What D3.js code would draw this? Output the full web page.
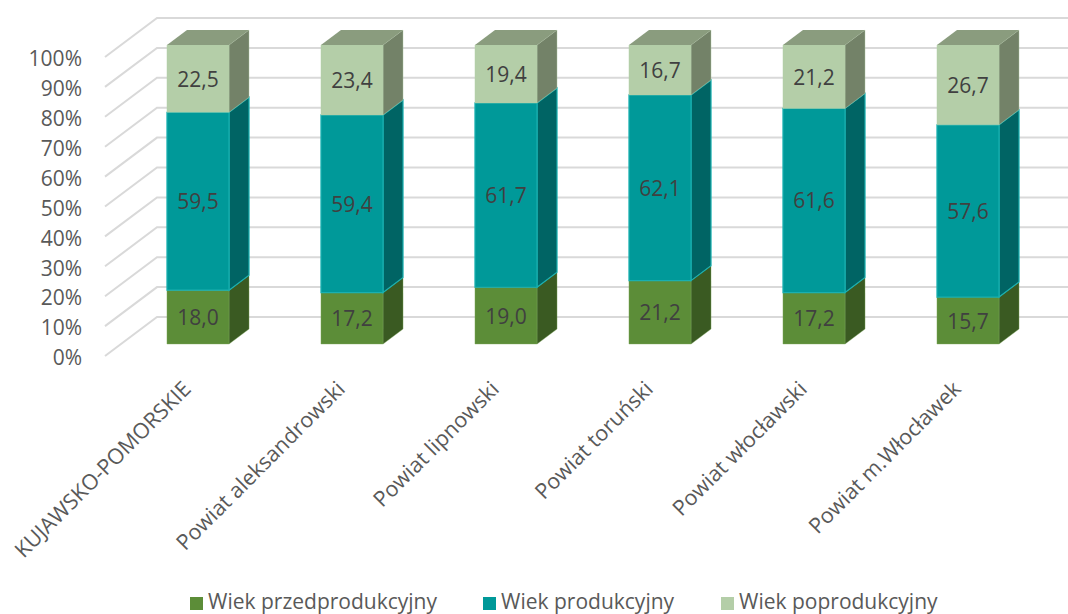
<!DOCTYPE html>
<html lang="pl">
<head>
<meta charset="utf-8">
<script src="https://cdn.jsdelivr.net/npm/d3@7"></script>
<style>
  html, body { margin: 0; padding: 0; background: #ffffff; }
  svg { display: block; font-family: "Open Sans", "Noto Sans", sans-serif; }
</style>
</head>
<body>
<svg id="chart" width="1068" height="614"></svg>
<script>
// Struktura ludności według ekonomicznych grup wieku (%)
const categories = [
  "KUJAWSKO-POMORSKIE",
  "Powiat aleksandrowski",
  "Powiat lipnowski",
  "Powiat toruński",
  "Powiat włocławski",
  "Powiat m.Włocławek"
];
const seriesNames = ["Wiek przedprodukcyjny", "Wiek produkcyjny", "Wiek poprodukcyjny"];
const przedprodukcyjny = [18.0, 17.2, 19.0, 21.2, 17.2, 15.7];
const produkcyjny      = [59.5, 59.4, 61.7, 62.1, 61.6, 57.6];
const poprodukcyjny    = [22.5, 23.4, 19.4, 16.7, 21.2, 26.7];
const yTicks = [0, 0.1, 0.2, 0.3, 0.4, 0.5, 0.6, 0.7, 0.8, 0.9, 1.0];

const seriesValues = [przedprodukcyjny, produkcyjny, poprodukcyjny];

// face colours per series: front, side, top, edge
const palette = [
  { front: "#5c8d38", side: "#3a5a22", top: "#4a7030", edge: "#7fa95e" },
  { front: "#009999", side: "#006464", top: "#007a7a", edge: "#19b0b0" },
  { front: "#b4cea8", side: "#738268", top: "#8a9c7e", edge: "#b4cea8" }
];

const FONT = 21;
const svg = d3.select("#chart");

// 3-D frame: front plane of the floor/wall box and its depth offset
const left = 105, right = 1029;
const depthX = 52, depthY = -39;
const barZ0 = 16 / 52, barZ1 = 36 / 52;

const y = d3.scaleLinear().domain([0, 1]).range([356, 57]);
const x = d3.scaleBand().domain(categories).range([left, right])
  .paddingInner(0.597).paddingOuter(0.2985);

const P = (px, py, z) => [px + depthX * z, py + depthY * z];
const poly = pts => "M" + pts.map(p => p.join(",")).join("L") + "Z";

// gridlines: diagonal on the side wall, horizontal on the back wall
const grid = svg.append("g").attr("fill", "none").attr("stroke", "#d9d9d9").attr("stroke-width", 2);
yTicks.forEach(t => {
  const a = P(left, y(t), 0), b = P(left, y(t), 1);
  grid.append("path").attr("d", `M${a[0]},${a[1]}L${b[0]},${b[1]}L1068,${b[1]}`);
});

// y axis labels
const yAxis = d3.axisLeft(y).tickValues(yTicks).tickFormat(d3.format(".0%")).tickSize(0).tickPadding(0);
const yg = svg.append("g").attr("transform", "translate(82,2)").call(yAxis);
yg.select(".domain").remove();
yg.selectAll("text").attr("font-size", FONT).attr("fill", "#595959")
  .attr("font-family", "'Open Sans', 'Noto Sans', sans-serif");

// stacked 3-D columns (100% stacked)
const fmt = v => d3.format(".1f")(v).replace(".", ",");
const bars = svg.append("g");
categories.forEach((cat, i) => {
  const total = d3.sum(seriesValues, s => s[i]);
  const xa = x(cat), xb = x(cat) + x.bandwidth();
  let acc = 0;
  seriesValues.forEach((s, k) => {
    const v0 = acc / total, v1 = (acc + s[i]) / total;
    acc += s[i];
    const y0 = y(v0), y1 = y(v1);
    const c = palette[k];
    const g = bars.append("g");
    g.append("path")
      .attr("d", poly([P(xb, y0, barZ0), P(xb, y0, barZ1), P(xb, y1, barZ1), P(xb, y1, barZ0)]))
      .attr("fill", c.side).attr("stroke", c.edge).attr("stroke-width", k === 1 ? 1.2 : 0.4);
    g.append("path")
      .attr("d", poly([P(xa, y0, barZ0), P(xb, y0, barZ0), P(xb, y1, barZ0), P(xa, y1, barZ0)]))
      .attr("fill", c.front).attr("stroke", c.edge).attr("stroke-width", k === 1 ? 1.2 : 0.4);
    if (k === seriesValues.length - 1) {
      g.append("path")
        .attr("d", poly([P(xa, y1, barZ0), P(xb, y1, barZ0), P(xb, y1, barZ1), P(xa, y1, barZ1)]))
        .attr("fill", c.top);
    }
    const cx = P((xa + xb) / 2, (y0 + y1) / 2, barZ0);
    g.append("text")
      .attr("x", cx[0]).attr("y", cx[1])
      .attr("text-anchor", "middle").attr("dominant-baseline", "central")
      .attr("font-size", FONT).attr("fill", "#404040")
      .text(fmt(s[i]));
  });
});

// rotated category labels
svg.append("g").selectAll("text").data(categories).join("text")
  .attr("transform", d => `translate(${x(d) + x.bandwidth() / 2 + 5},385) rotate(-45)`)
  .attr("text-anchor", "end").attr("dy", "0.35em")
  .attr("font-size", 21.5).attr("fill", "#595959")
  .text(d => d);

// legend
const legendX = [190, 483, 721];
const legend = svg.append("g");
seriesNames.forEach((name, k) => {
  legend.append("rect").attr("x", legendX[k]).attr("y", 597).attr("width", 13).attr("height", 13)
    .attr("fill", palette[k].front);
  legend.append("text").attr("x", legendX[k] + 18).attr("y", 609)
    .attr("font-size", FONT).attr("fill", "#595959").text(name);
});
</script>
</body>
</html>
